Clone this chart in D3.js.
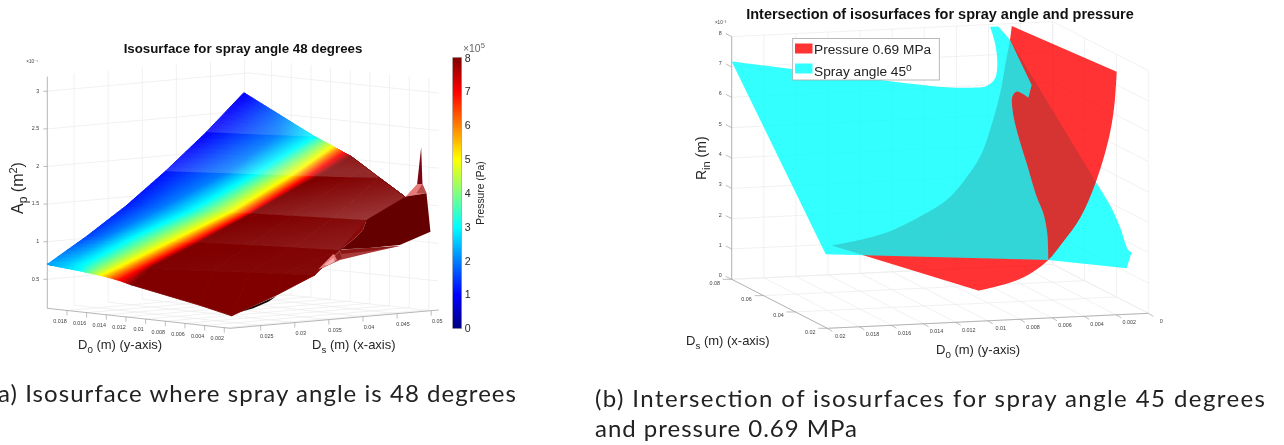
<!DOCTYPE html>
<html><head><meta charset="utf-8">
<style>html,body{margin:0;padding:0;background:#fff;overflow:hidden}svg{display:block;filter:blur(0.4px)}text{font-family:"Liberation Sans",Arial,sans-serif}</style>
<script src="https://cdn.jsdelivr.net/npm/d3@7/dist/d3.min.js"></script>
</head><body><div id="c"></div>
<script>
// ---------- Panel (a): isosurface for spray angle 48 degrees ----------
const aDsTicks=[0.025,0.03,0.035,0.04,0.045,0.05];
const aD0Ticks=[0.018,0.016,0.014,0.012,0.01,0.008,0.006,0.004,0.002];
const aApTicks=[0.5,1,1.5,2,2.5,3];
const aApLabels=["0.5","1","1.5","2","2.5","3"];
const pressureTicks=[0,1,2,3,4,5,6,7,8];
// mesh rows: constant-area slices of the isosurface (Ap in 1e-4 m2)
const aDs=[
[.0205,.0205,.0205,.0205,.0205,.0205,.0205,.0205,.0205,.02074,.02734,.03429],
[.0205,.02153,.02238,.02325,.0242,.02478,.02538,.02575,.02899,.03099,.03271,.03429],
[.0263,.02713,.02812,.02892,.02982,.03014,.03049,.03076,.03285,.03463,.03645,.03645],
[.03192,.03327,.03442,.03511,.03578,.03615,.03645,.03661,.03805,.03957,.0408,.0408],
[.03769,.04117,.04279,.04383,.04487,.04536,.04586,.04639,.04823,.0495,.0495,.0495],
[.04375,.04735,.04934,.0495,.0495,.0495,.0495,.0495,.0495,.0495,.0495,.0495],
[.0495,.0495,.04934,.0495,.0495,.0495,.0495,.0495,.0495,.0495,.0495,.0495]];
const aD0=[
[.01999,.0184,.01667,.01558,.01449,.01358,.01263,.01144,.00448,.00142,.00142,.00235],
[.01999,.01877,.01766,.0164,.01523,.01447,.01371,.01322,.00903,.00667,.00447,.00235],
[.01998,.01859,.01664,.01512,.01368,.01288,.01207,.01161,.00796,.0048,.00131,.00131],
[.01989,.01709,.01477,.01331,.01185,.01122,.01054,.01024,.00717,.00416,.00162,.00162],
[.01992,.01613,.01431,.01319,.01205,.01151,.01094,.01043,.00848,.00637,.00376,.00376],
[.01997,.01517,.01282,.01201,.01106,.01055,.00997,.00919,.00783,.00637,.00376,.00376],
[.02013,.01615,.01282,.01201,.01106,.01055,.00997,.00919,.00783,.00637,.00376,.00376]];
const aAp=[
[.699,.678,.658,.643,.627,.61,.587,.547,.376,.278,.503,.7],
[.7,.7,.7,.7,.7,.7,.7,.7,.7,.7,.7,.7],
[1.03,1.03,1.03,1.03,1.03,1.03,1.03,1.03,1.03,1.03,1.03,1.03],
[1.39,1.39,1.39,1.39,1.39,1.39,1.39,1.39,1.39,1.39,1.39,1.39],
[1.8,1.8,1.8,1.8,1.8,1.8,1.8,1.8,1.8,1.816,1.6,1.6],
[2.27,2.27,2.27,2.214,2.161,2.133,2.097,2.055,1.941,1.816,1.6,1.6],
[2.749,2.483,2.27,2.214,2.161,2.133,2.097,2.055,1.941,1.816,1.6,1.6]];
const aPressure=[ // 1e5 Pa
[2.3,2.6,3,4,5,6,7,8,9,9,9,9],
[2.3,2.6,3,4,5,6,7,8,9,9,9,9],
[1.5,2,3,4,5,6,7,8,9,9,9,9],
[1.2,2,3,4,5,6,7,8,9,9,9,9],
[1.1,2,3,4,5,6,7,8,9,9,9,9],
[.95,2,3,4,5,6,7,8,9,9,9,9],
[.9,2,3,4,5,6,7,8,9,9,9,9]];
// folded edge of the surface near D0 minimum: [Ds, Ap]
const aD0Edge=0.00142;
const aSliver=[[.02172,.313],[.02734,.489],[.02612,.424],[.02392,.353]];
const aBulge=[[.03661,1.027],[.03881,1.165],[.04,1.268],[.04052,1.395]];
const aSkirt=[[.03295,.724],[.03661,1.027],[.04052,1.018],[.0454,1.011],[.04101,.957],[.03661,.894],[.03368,.794]];
const aSkirtInner=[[.03661,1.027],[.0454,1.011],[.04125,.981],[.03686,.972]];
const aFacetA=[[.03344,.795],[.03564,.982],[.03652,.917],[.03466,.83]];
const aFacetB=[[.03427,.847],[.03564,.933],[.03588,.878],[.0349,.841]];
const aFacetC=[[.03588,.954],[.03661,1.005],[.03686,.914],[.03622,.898]];
const aTuft=[[.04628,1.66],[.04794,1.815],[.04872,1.809],[.04931,1.68]];
const aTuftSide=[[.04872,1.809],[.04931,1.68],[.04784,1.692]];
const aSpike=[[.04794,1.815],[.04853,2.297],[.04872,1.809]];
const aFlap=[[.03661,1.027],[.03881,1.165],[.04,1.268],[.04052,1.395],[.04628,1.66],[.04931,1.68],[.04989,1.165],[.0454,1.024],[.04052,1.018],[.0371,1.032]];

// ---------- Panel (b): two isosurfaces: [Ds, D0, Rin (1e-3 m)] ----------
const bDsTicks=[0.08,0.06,0.04,0.02];
const bD0Ticks=[0.02,0.018,0.016,0.014,0.012,0.01,0.008,0.006,0.004,0.002,0];
const bRinTicks=[0,1,2,3,4,5,6,7,8];
const bPressureSurface=[[.02,.01973,2.72],[.02,.01055,1.008],[.02,.00841,1.253],[.02,.00717,1.55],[.02,.00623,1.912],[.02,.0053,2.49],[.02,.00426,3.237],[.02,.00322,4.475],[.02,.00239,5.993],[.02,.00208,7.085],[.02,.00197,8.01],
[.08,.00255,7.92],[.0788,.00278,7.5],[.0752,.00345,6.73],[.071,.00417,5.98],[.0632,.00557,5.02],[.056,.00691,4.36],[.05,.00855,3.74],[.044,.01018,3.34],[.038,.01244,3.01],[.032,.0147,2.79],[.026,.01695,2.73],[.02,.01973,2.72]];
const bPressureCorners=[0,1,10,11,22];
const bSprayFront=[[.08,.02,7.18],[.08,.01616,6.83],[.08,.01242,6.49],[.08,.00868,6.16],[.08,.0066,6],[.08,.00515,5.95],[.08,.00411,5.98],[.08,.00359,6.22],[.08,.00345,6.71],[.08,.00359,7.37],[.08,.0039,7.93],[.08,.00339,7.92],[.0788,.00278,7.5],
[.062,.0031,6.47],[.062,.0033,6.06],[.065,.00373,6.19],[.065,.004,6.03],[.062,.0043,5.73],[.056,.00463,5.19],[.05,.0046,4.25],[.041,.00487,3.4],[.035,.00505,3.02],[.026,.0057,2.62],[.02,.00623,1.912],[.021,.02,2.41],[.08,.02,7.18]];
const bSprayFrontCorners=[0,10,11,12,13,14,23,24,25];
const bSprayBack=[[.0788,.00278,7.5],[.02,.00322,4.365],[.02,.00239,3.63],[.02,.00177,2.9],[.02,.00125,2.12],[.02,.00104,2.04],[.02,.00135,1.52],[.02,.00623,1.912],
[.026,.0057,2.62],[.035,.00505,3.02],[.041,.00487,3.4],[.05,.0046,4.25],[.056,.00463,5.19],[.062,.0043,5.73],[.065,.004,6.03],[.065,.00373,6.19],[.062,.0033,6.06],[.062,.0031,6.47],[.0788,.00278,7.5]];
const bSprayBackCorners=[0,1,5,6,7,16,17,18];

// ---------- helpers ----------
const svg=d3.select("#c").append("svg").attr("width",1284).attr("height",445);
const defs=svg.append("defs");
const jet=d3.scaleLinear().domain([0,1,3,5,7,8]).range(["#000080","#0000ff","#00ffff","#ffff00","#ff0000","#800000"]).clamp(true);
const GRID="#ebebeb",AXIS="#a3a3a3",TICK="#404040",LABEL="#262626";

function projector(c){
  const u=d3.scaleLinear().domain(c.ds).range([0,1]);
  const v=d3.scaleLinear().domain(c.d0).range([0,1]);
  const w=d3.scaleLinear().domain(c.z).range([0,1]);
  return (ds,d0,z)=>{
    const U=u(ds),V=v(d0),W=w(z);
    return [c.F[0]+U*(c.R[0]-c.F[0])+V*(c.L[0]-c.F[0]),
            c.F[1]+U*(c.R[1]-c.F[1])+V*(c.L[1]-c.F[1])+W*c.H];
  };
}
function segment(g,a,b,col,wd){g.append("line").attr("x1",a[0]).attr("y1",a[1]).attr("x2",b[0]).attr("y2",b[1]).attr("stroke",col).attr("stroke-width",wd);}
function smallText(g,x,y,t,anchor){return g.append("text").attr("x",x).attr("y",y).attr("font-size",5.4).attr("fill",TICK).attr("text-anchor",anchor||"middle").attr("dominant-baseline","middle").text(t);}
function subLabel(g,x,y,base,sub,rest,size,rot){
  const t=g.append("text").attr("font-size",size).attr("fill",LABEL)
    .attr("transform",`translate(${x},${y})`+(rot?` rotate(${rot})`:""));
  t.append("tspan").text(base);
  t.append("tspan").attr("font-size",size*.75).attr("dy",size*.3).text(sub);
  t.append("tspan").attr("dy",-size*.3).text(rest);
  return t;
}
const pathOf=d3.line();
const smooth=d3.line().curve(d3.curveCatmullRom.alpha(.5));
function outline(pts,corners){
  let s="";
  for(let i=0;i<corners.length-1;i++){
    const part=pts.slice(corners[i],corners[i+1]+1);
    const d=smooth(part);
    s+= i===0? d : "L"+d.slice(1);
  }
  return s+"Z";
}

// ---------- Panel (a) ----------
const gA=svg.append("g").attr("class","panel-a");
const cA={ds:[.0205,.0511],d0:[.00142,.02],z:[.114,3.195],F:[230,328.3],R:[438.7,310],L:[47.3,308.3],H:-231.7};
const pA=projector(cA);
(function axesA(){
  const g=gA.append("g");
  const dsLo=cA.ds[0],d0Lo=cA.d0[0],d0Hi=cA.d0[1],zLo=cA.z[0],zHi=cA.z[1];
  const dsW=.0505,d0W=.0204;   // back walls sit slightly inside the box because of the view's perspective
  aDsTicks.forEach(d=>{ segment(g,pA(d,d0W,zLo),pA(d,d0W,zHi),GRID,.7); segment(g,pA(d,d0Lo,zLo),pA(d,d0W,zLo),GRID,.7); });
  aD0Ticks.forEach(d=>{ segment(g,pA(dsW,d,zLo),pA(dsW,d,zHi),GRID,.7); segment(g,pA(dsLo,d,zLo),pA(dsW,d,zLo),GRID,.7); });
  aApTicks.forEach(z=>{ segment(g,pA(dsLo,d0Hi,z),pA(dsW,d0W,z),GRID,.7); segment(g,pA(dsW,d0W,z),pA(cA.ds[1],d0Lo,z),GRID,.7); });
  segment(g,pA(dsLo,d0Hi,zLo),pA(dsLo,d0Hi,zHi),AXIS,.8);
  segment(g,pA(dsLo,d0Hi,zLo),pA(dsLo,d0Lo,zLo),AXIS,.8);
  segment(g,pA(dsLo,d0Lo,zLo),pA(cA.ds[1],d0Lo,zLo),AXIS,.8);
  aApTicks.forEach((z,i)=>{ const p=pA(dsLo,d0Hi,z); segment(g,p,[p[0]-4,p[1]],AXIS,.7); smallText(g,p[0]-8,p[1],aApLabels[i],"end"); });
  aD0Ticks.forEach(d=>{ const p=pA(dsLo,d,zLo); segment(g,p,[p[0],p[1]+5],AXIS,.7); smallText(g,p[0]-7,p[1]+11,String(d)); });
  aDsTicks.forEach(d=>{ const p=pA(d,d0Lo,zLo); segment(g,p,[p[0],p[1]+5],AXIS,.7); smallText(g,p[0]+6,p[1]+11,String(d)); });
  smallText(g,38,62,"×10⁻⁴","end").attr("font-size",4.6);
})();
gA.append("path").attr("d",pathOf(aSliver.map(d=>pA(d[0],aD0Edge,d[1])))+"Z").attr("fill","#170606");
// colour mesh, then one highlight per slice strip
const aSheen=[0,.04,.12,.22,.16,.15];
(function mesh(){
  const g=gA.append("g").attr("class","surface");
  const polys=[];
  const lerp=(a,b,t)=>a+(b-a)*t;
  const vtx=(r,c)=>pA(aDs[r][c],aD0[r][c],aAp[r][c]);
  for(let r=0;r<aDs.length-1;r++){
    for(let c=0;c<aDs[r].length-1;c++){
      const A=vtx(r,c),B=vtx(r,c+1),C=vtx(r+1,c+1),D=vtx(r+1,c);
      const pA0=aPressure[r][c],pB0=aPressure[r][c+1],pC0=aPressure[r+1][c+1],pD0=aPressure[r+1][c];
      const saturated=Math.min(pA0,pB0,pC0,pD0)>=8;
      const nv=c<2?8:1;
      const width=Math.max(Math.hypot(B[0]-A[0],B[1]-A[1]),Math.hypot(C[0]-D[0],C[1]-D[1]));
      const nu=saturated?1:Math.max(1,Math.ceil(width/1.4));
      const at=(s,t)=>[lerp(lerp(A[0],B[0],s),lerp(D[0],C[0],s),t),lerp(lerp(A[1],B[1],s),lerp(D[1],C[1],s),t)];
      for(let i=0;i<nu;i++)for(let j=0;j<nv;j++){
        const s0=i/nu,s1=(i+1)/nu,t0=j/nv,t1=(j+1)/nv,sm=(s0+s1)/2,tm=(t0+t1)/2;
        const P=lerp(lerp(pA0,pB0,sm),lerp(pD0,pC0,sm),tm);
        polys.push({d:pathOf([at(s0,t0),at(s1,t0),at(s1,t1),at(s0,t1)])+"Z",col:jet(P)});
      }
    }
  }
  g.selectAll("path").data(polys).join("path").attr("d",d=>d.d).attr("fill",d=>d.col).attr("stroke",d=>d.col).attr("stroke-width",.9).attr("stroke-linejoin","round");
  aSheen.forEach((s,r)=>{
    if(!s)return;
    const low=aDs[r].map((_,c)=>vtx(r,c)),up=aDs[r].map((_,c)=>vtx(r+1,c));
    const a=r<4?low[low.length-1]:low[0];
    const h=a[1]-d3.min(up,p=>p[1]);
    const W=r<4?(low[low.length-1][0]-low[0][0])*1.1:1e6;
    const gx=-1/W,gy=-1/h,n=gx*gx+gy*gy;
    const id="sheen"+r;
    const grad=defs.append("linearGradient").attr("id",id).attr("gradientUnits","userSpaceOnUse")
      .attr("x1",a[0]).attr("y1",a[1]).attr("x2",a[0]+gx/n).attr("y2",a[1]+gy/n);
    grad.append("stop").attr("offset",0).attr("stop-color","#fff").attr("stop-opacity",s);
    grad.append("stop").attr("offset",1).attr("stop-color","#fff").attr("stop-opacity",0);
    g.append("path").attr("d",pathOf(low.concat(up.slice().reverse()))+"Z").attr("fill",`url(#${id})`);
  });
})();
const foldPath=(g,arr,fill)=>g.append("path").attr("d",pathOf(arr.map(d=>pA(d[0],aD0Edge,d[1])))+"Z").attr("fill",fill);
foldPath(gA,aBulge,"#8a0808");
foldPath(gA,aSkirt,"#ab3a3a");
foldPath(gA,aSkirtInner,"#8c1616");
foldPath(gA,aFacetA,"#e87e7e");
foldPath(gA,aFacetB,"#f6adad");
foldPath(gA,aFacetC,"#8e2020");
foldPath(gA,aTuft,"#e87a7a");
foldPath(gA,aTuftSide,"#b84a4a");
foldPath(gA,aSpike,"#7c0412");
foldPath(gA,aFlap,"#650000");
gA.append("text").attr("x",243).attr("y",53).attr("text-anchor","middle").attr("font-size",13.3).attr("font-weight","bold").attr("fill","#111").text("Isosurface for spray angle 48 degrees");
subLabel(gA,78,349,"D","0"," (m) (y-axis)",13);
subLabel(gA,312,349,"D","s"," (m) (x-axis)",13);
(function(){
  const t=gA.append("text").attr("font-size",16).attr("fill",LABEL).attr("transform","translate(23,214) rotate(-90)");
  t.append("tspan").text("A");
  t.append("tspan").attr("font-size",12).attr("dy",4).text("p");
  t.append("tspan").attr("dy",-4).text(" (m");
  t.append("tspan").attr("font-size",11).attr("dy",-6).text("2");
  t.append("tspan").attr("dy",6).text(")");
})();
// colour bar
(function colorbar(){
  const g=gA.append("g").attr("class","colorbar");
  const y=d3.scaleLinear().domain([0,8]).range([328.3,57.7]);
  const bands=d3.range(0,8,8/135);
  g.selectAll("rect.band").data(bands).join("rect").attr("class","band").attr("x",452.7).attr("width",9).attr("y",d=>y(d+8/135)-.3).attr("height",y(0)-y(8/135)+.6).attr("fill",d=>jet(d+4/135));
  g.append("rect").attr("x",452.7).attr("y",57.7).attr("width",9).attr("height",270.6).attr("fill","none").attr("stroke","#9a9a9a").attr("stroke-width",.6);
  const ax=g.append("g").attr("transform","translate(461.7,0)").call(d3.axisRight(y).tickValues(pressureTicks).tickFormat(d3.format("d")).tickSize(0).tickPadding(3));
  ax.select(".domain").remove();
  ax.selectAll("text").attr("font-size",10.6).attr("fill",LABEL).attr("font-family","'Liberation Sans',Arial,sans-serif");
  g.append("text").attr("transform","translate(483.5,193) rotate(-90)").attr("text-anchor","middle").attr("font-size",10.3).attr("fill",LABEL).text("Pressure (Pa)");
  const e=g.append("text").attr("x",463).attr("y",52).attr("font-size",10.4).attr("fill","#666");
  e.append("tspan").text("×10");
  e.append("tspan").attr("font-size",7.6).attr("dy",-4).text("5");
})();
svg.append("text").attr("x",-9).attr("y",402).attr("font-size",24).style("font-family","Lato").attr("fill","#222").attr("textLength",525).attr("lengthAdjust","spacing").text("(a) Isosurface where spray angle is 48 degrees");

// ---------- Panel (b) ----------
const gB=svg.append("g").attr("class","panel-b");
const cB={ds:[.02,.08],d0:[.02,0],z:[0,8],F:[827.3,328.3],R:[731.7,279.3],L:[1148.3,313.3],H:-242.7};
const pB=projector(cB);
(function axesB(){
  const g=gB.append("g");
  bDsTicks.forEach(d=>{ segment(g,pB(d,0,0),pB(d,0,8),GRID,.7); segment(g,pB(d,.02,0),pB(d,0,0),GRID,.7); });
  bD0Ticks.forEach(d=>{ segment(g,pB(.08,d,0),pB(.08,d,8),GRID,.7); segment(g,pB(.02,d,0),pB(.08,d,0),GRID,.7); });
  bRinTicks.forEach(z=>{ segment(g,pB(.08,.02,z),pB(.08,0,z),GRID,.7); segment(g,pB(.08,0,z),pB(.02,0,z),GRID,.7); });
  segment(g,pB(.08,.02,0),pB(.08,.02,8),AXIS,.8);
  segment(g,pB(.08,.02,0),pB(.02,.02,0),AXIS,.8);
  segment(g,pB(.02,.02,0),pB(.02,0,0),AXIS,.8);
  bRinTicks.forEach(z=>{ const p=pB(.08,.02,z); segment(g,p,[p[0]-6,p[1]-3],AXIS,.7); smallText(g,p[0]-10,p[1]-3.4,String(z),"end"); });
  bDsTicks.forEach(d=>{ const p=pB(d,.02,0); segment(g,p,[p[0]-9,p[1]],AXIS,.7); smallText(g,p[0]-17,p[1]+4,String(d)); });
  bD0Ticks.forEach(d=>{ const p=pB(.02,d,0); segment(g,p,[p[0]+5,p[1]+3],AXIS,.7); smallText(g,p[0]+13,p[1]+8,String(d)); });
  smallText(g,720.6,23,"×10⁻³","middle").attr("font-size",4.6);
})();
const surf=(arr,corners,col)=>gB.append("path").attr("d",outline(arr.map(d=>pB(d[0],d[1],d[2])),corners)).attr("fill",col).attr("fill-opacity",.8);
surf(bSprayBack,bSprayBackCorners,"#00ffff");
surf(bPressureSurface,bPressureCorners,"#ff0000");
surf(bSprayFront,bSprayFrontCorners,"#00ffff");
gB.append("text").attr("x",940).attr("y",18.5).attr("text-anchor","middle").attr("font-size",14.5).attr("font-weight","bold").attr("fill","#111").text("Intersection of isosurfaces for spray angle and pressure");
subLabel(gB,686,345,"D","s"," (m) (x-axis)",13);
subLabel(gB,936,354,"D","0"," (m) (y-axis)",13);
(function(){
  const t=gB.append("text").attr("font-size",14).attr("fill",LABEL).attr("transform","translate(706,180) rotate(-90)");
  t.append("tspan").text("R");
  t.append("tspan").attr("font-size",11).attr("dy",4).text("in");
  t.append("tspan").attr("dy",-4).text(" (m)");
})();
(function(){
  const g=gB.append("g").attr("class","legend");
  g.append("rect").attr("x",792.7).attr("y",38.5).attr("width",146.6).attr("height",41.5).attr("fill","#fff").attr("stroke","#a8a8a8").attr("stroke-width",.8);
  g.append("rect").attr("x",795).attr("y",43.5).attr("width",17.5).attr("height",10).attr("fill","#ff0000").attr("fill-opacity",.8);
  g.append("rect").attr("x",795).attr("y",63.5).attr("width",17.5).attr("height",10).attr("fill","#00ffff").attr("fill-opacity",.8);
  g.append("text").attr("x",814).attr("y",54).attr("font-size",13.7).attr("fill","#222").text("Pressure 0.69 MPa");
  const t=g.append("text").attr("x",814).attr("y",76).attr("font-size",13.7).attr("fill","#222");
  t.append("tspan").text("Spray angle 45");
  t.append("tspan").attr("font-size",10.3).attr("dy",-5).text("o");
})();
svg.append("text").attr("x",595).attr("y",407).attr("font-size",24).style("font-family","Lato").attr("fill","#222").attr("textLength",670).attr("lengthAdjust","spacing").text("(b) Intersection of isosurfaces for spray angle 45 degrees");
svg.append("text").attr("x",595).attr("y",437).attr("font-size",24).style("font-family","Lato").attr("fill","#222").attr("textLength",262).attr("lengthAdjust","spacing").text("and pressure 0.69 MPa");
</script></body></html>
